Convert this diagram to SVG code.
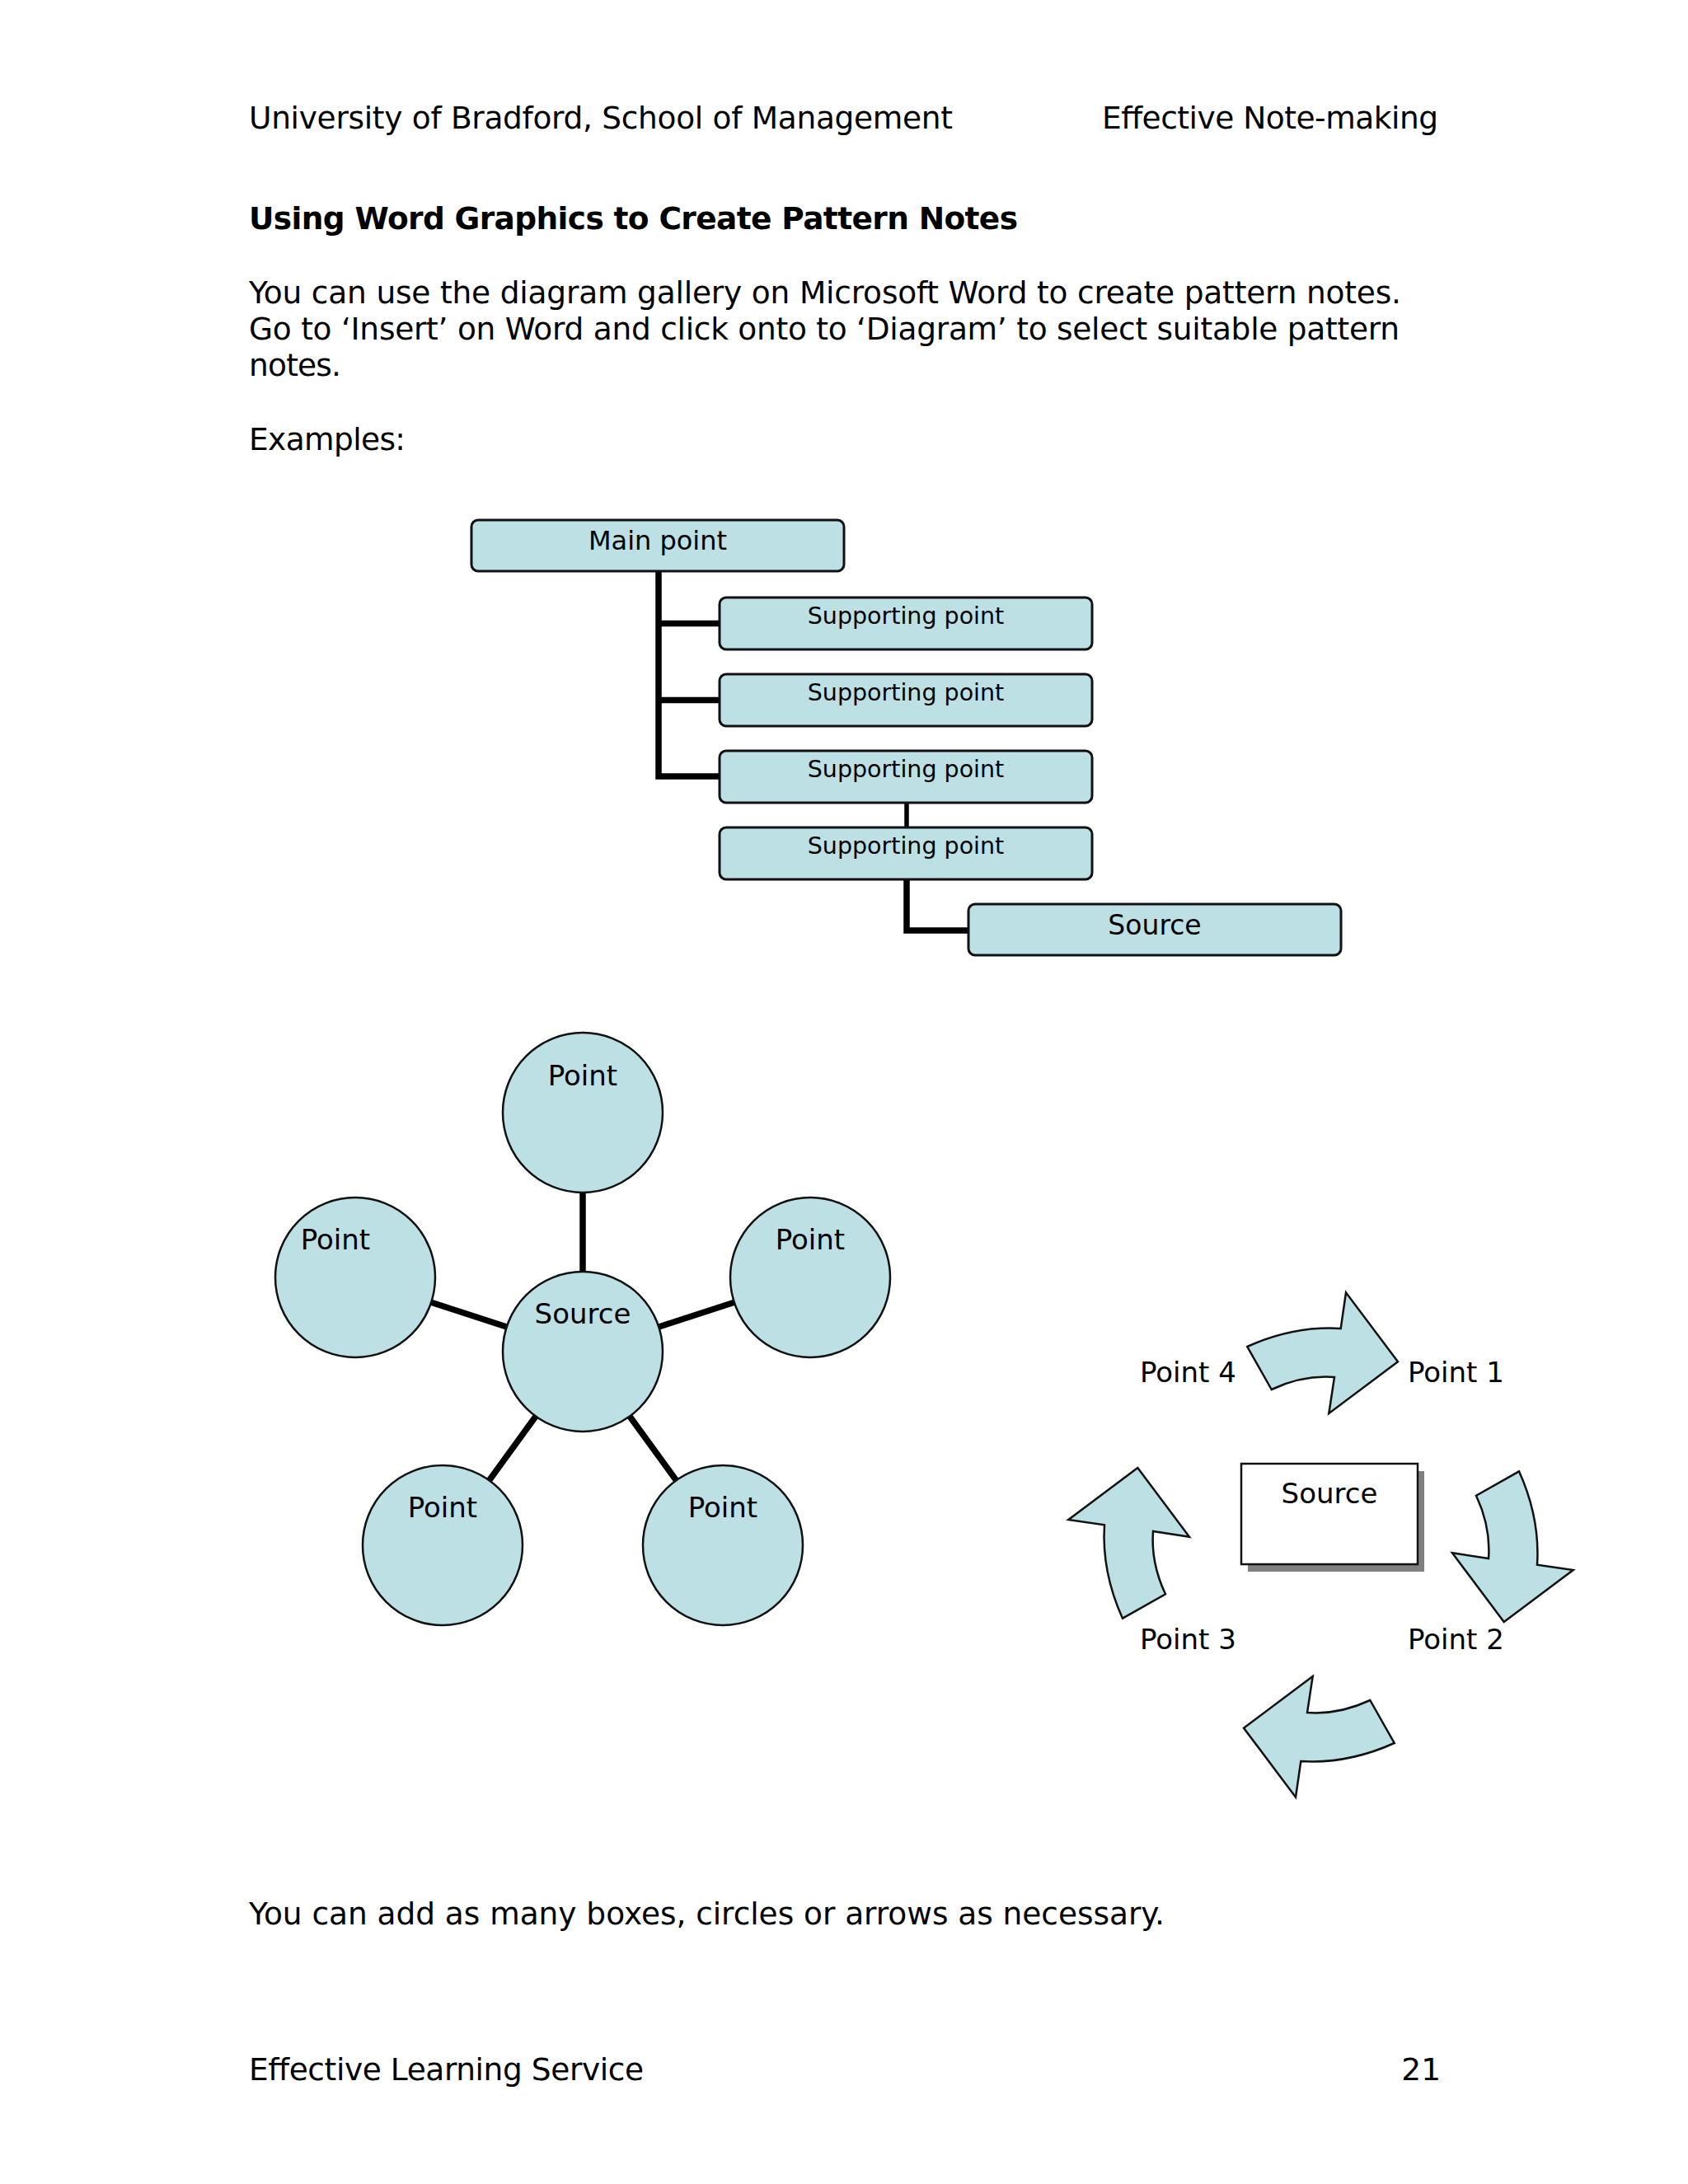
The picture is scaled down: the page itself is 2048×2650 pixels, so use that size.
<svg xmlns="http://www.w3.org/2000/svg" width="2048" height="2650" viewBox="0 0 2048 2650">
<style>
.t{font-family:"DejaVu Sans","Noto Sans",sans-serif;font-size:37.5px;fill:#000}
.b{font-weight:bold}
.box{fill:#bce0e3;stroke:#111;stroke-width:3}
.circ{fill:#bce0e3;stroke:#111;stroke-width:2.5}
.arr{fill:#bce0e3;stroke:#111;stroke-width:2.5;stroke-linejoin:miter}
.lbl{font-family:"DejaVu Sans","Noto Sans",sans-serif;font-size:34px;fill:#000;text-anchor:middle}
.lbs{font-family:"DejaVu Sans","Noto Sans",sans-serif;font-size:34px;fill:#000;text-anchor:start}
.sp{font-size:28.5px}
.mp{font-size:32px}
.src{font-size:33px}
.conn{stroke:#000;stroke-width:7.5;fill:none;stroke-linecap:butt}
</style>
<defs>
<path id="cyc-arrow" d="M1513.3,1634 Q1570,1608.4 1626.7,1612 L1633,1568.3 L1696,1652.3 L1612.3,1715 L1619,1671 Q1580.9,1668.1 1542.7,1686 Z"/>
</defs>
<rect width="2048" height="2650" fill="#fff"/>

<g id="page-text">
<text class="t" x="302" y="155.5" textLength="854">University of Bradford, School of Management</text>
<text class="t" x="1337" y="155.5" textLength="408">Effective Note-making</text>
<text class="t b" x="302" y="277.5" textLength="933">Using Word Graphics to Create Pattern Notes</text>
<text class="t" x="302" y="367.5" textLength="1398">You can use the diagram gallery on Microsoft Word to create pattern notes.</text>
<text class="t" x="302" y="411.5" textLength="1396">Go to ‘Insert’ on Word and click onto to ‘Diagram’ to select suitable pattern</text>
<text class="t" x="302" y="455.5" textLength="112">notes.</text>
<text class="t" x="302" y="546" textLength="190">Examples:</text>
<text class="t" x="302" y="2335" textLength="1111">You can add as many boxes, circles or arrows as necessary.</text>
<text class="t" x="302" y="2524" textLength="479">Effective Learning Service</text>
<text class="t" x="1748" y="2524" text-anchor="end">21</text>
</g>

<g id="tree-connectors">
<path class="conn" d="M799,693 V945.5 M795.25,756.5 H873 M795.25,849.5 H873 M795.25,942 H873"/>
<path class="conn" style="stroke-width:5.5" d="M1100,973 V1004"/>
<path class="conn" d="M1100,1066 V1129 H1176"/>
</g>
<g id="tree-main"><rect class="box" x="572" y="631" width="452" height="62" rx="8"/><text class="lbl mp" x="798" y="667">Main point</text></g>
<g id="tree-sp1"><rect class="box" x="873" y="725" width="452" height="63" rx="8"/><text class="lbl sp" x="1099" y="757">Supporting point</text></g>
<g id="tree-sp2"><rect class="box" x="873" y="818" width="452" height="63" rx="8"/><text class="lbl sp" x="1099" y="850">Supporting point</text></g>
<g id="tree-sp3"><rect class="box" x="873" y="911" width="452" height="63" rx="8"/><text class="lbl sp" x="1099" y="943">Supporting point</text></g>
<g id="tree-sp4"><rect class="box" x="873" y="1004" width="452" height="63" rx="8"/><text class="lbl sp" x="1099" y="1036">Supporting point</text></g>
<g id="tree-source"><rect class="box" x="1175" y="1097" width="452" height="62" rx="8"/><text class="lbl src" x="1401" y="1134">Source</text></g>

<g id="star-connectors">
<line class="conn" x1="707" y1="1446" x2="707" y2="1543"/>
<line class="conn" x1="614.7" y1="1610" x2="522.5" y2="1580"/>
<line class="conn" x1="799.3" y1="1610" x2="891.5" y2="1580"/>
<line class="conn" x1="650" y1="1718.5" x2="593" y2="1797"/>
<line class="conn" x1="764" y1="1718.5" x2="821" y2="1797"/>
</g>
<g id="star-source"><circle class="circ" cx="707" cy="1640" r="97"/><text class="lbl" x="707" y="1606">Source</text></g>
<g id="star-top"><circle class="circ" cx="707" cy="1350" r="97"/><text class="lbl" x="707" y="1317">Point</text></g>
<g id="star-left"><circle class="circ" cx="431" cy="1550" r="97"/><text class="lbl" x="407" y="1516">Point</text></g>
<g id="star-right"><circle class="circ" cx="983" cy="1550" r="97"/><text class="lbl" x="983" y="1516">Point</text></g>
<g id="star-bl"><circle class="circ" cx="537" cy="1875" r="97"/><text class="lbl" x="537" y="1841">Point</text></g>
<g id="star-br"><circle class="circ" cx="877" cy="1875" r="97"/><text class="lbl" x="877" y="1841">Point</text></g>

<g id="cycle-source">
<rect x="1514" y="1785" width="214" height="122" fill="#808080"/>
<rect x="1506" y="1776" width="214" height="122" fill="#fff" stroke="#111" stroke-width="2.5"/>
<text class="lbl" x="1613" y="1824">Source</text>
</g>
<g id="cycle-arrows">
<use href="#cyc-arrow" class="arr"/>
<use href="#cyc-arrow" class="arr" transform="rotate(90 1602.5 1874.5)"/>
<use href="#cyc-arrow" class="arr" transform="rotate(180 1602.5 1874.5)"/>
<use href="#cyc-arrow" class="arr" transform="rotate(270 1602.5 1874.5)"/>
</g>
<g id="cycle-p1"><text class="lbs" x="1708" y="1677">Point 1</text></g>
<g id="cycle-p2"><text class="lbs" x="1708" y="2001">Point 2</text></g>
<g id="cycle-p3"><text class="lbs" x="1383" y="2001">Point 3</text></g>
<g id="cycle-p4"><text class="lbs" x="1383" y="1677">Point 4</text></g>
</svg>
